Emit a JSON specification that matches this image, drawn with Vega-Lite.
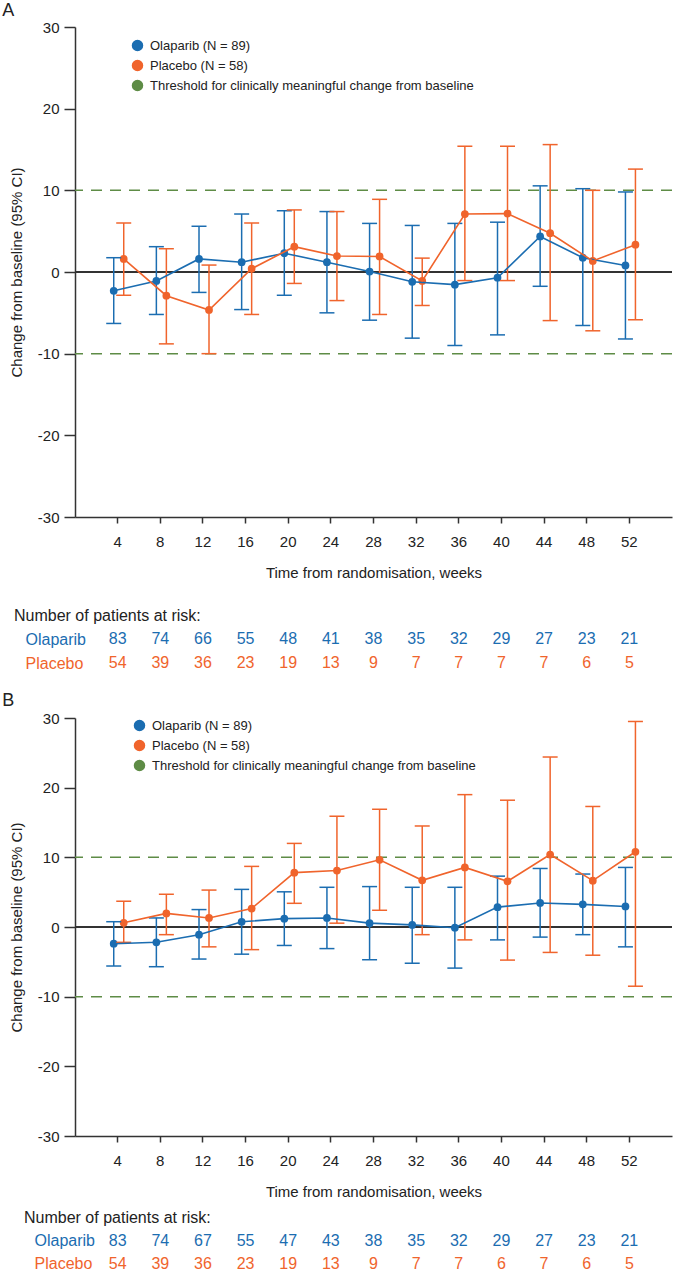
{
  "$schema": "https://vega.github.io/schema/vega-lite/v6.json",
  "padding": {"left": 2, "top": 2, "right": 0, "bottom": 0},
  "resolve": {"scale": {"color": "independent"}, "legend": {"color": "independent"}},
  "config": {
    "font": "Liberation Sans",
    "view": {"stroke": null},
    "axis": {"domainColor": "#333", "tickColor": "#333", "labelColor": "#222", "titleColor": "#222", "domainWidth": 1.5, "tickWidth": 1.5, "grid": false, "labelFontSize": 15, "titleFontSize": 15, "titleFontWeight": "normal"},
    "title": {"fontWeight": "normal", "color": "#222"}
  },
  "vconcat": [
    {
      "spacing": 28,
      "resolve": {"scale": {"color": "independent"}, "legend": {"color": "independent"}},
      "vconcat": [
        {
          "width": 597, "height": 490,
          "title": {"text": "A", "anchor": "start", "frame": "bounds", "dx": -7, "fontSize": 18, "offset": 0},
          "data": {"values": [
            {"week": 4, "group": "Olaparib", "mean": -2.3, "lo": -6.3, "hi": 1.75},
            {"week": 8, "group": "Olaparib", "mean": -1.1, "lo": -5.2, "hi": 3.1},
            {"week": 12, "group": "Olaparib", "mean": 1.6, "lo": -2.5, "hi": 5.6},
            {"week": 16, "group": "Olaparib", "mean": 1.2, "lo": -4.6, "hi": 7.1},
            {"week": 20, "group": "Olaparib", "mean": 2.3, "lo": -2.85, "hi": 7.5},
            {"week": 24, "group": "Olaparib", "mean": 1.2, "lo": -5.0, "hi": 7.4},
            {"week": 28, "group": "Olaparib", "mean": 0.05, "lo": -5.9, "hi": 5.95},
            {"week": 32, "group": "Olaparib", "mean": -1.2, "lo": -8.1, "hi": 5.7},
            {"week": 36, "group": "Olaparib", "mean": -1.55, "lo": -9.0, "hi": 5.95},
            {"week": 40, "group": "Olaparib", "mean": -0.7, "lo": -7.7, "hi": 6.1},
            {"week": 44, "group": "Olaparib", "mean": 4.35, "lo": -1.75, "hi": 10.55},
            {"week": 48, "group": "Olaparib", "mean": 1.75, "lo": -6.55, "hi": 10.2},
            {"week": 52, "group": "Olaparib", "mean": 0.8, "lo": -8.2, "hi": 9.8},
            {"week": 4, "group": "Placebo", "mean": 1.6, "lo": -2.85, "hi": 6.0},
            {"week": 8, "group": "Placebo", "mean": -2.9, "lo": -8.8, "hi": 2.85},
            {"week": 12, "group": "Placebo", "mean": -4.65, "lo": -10.0, "hi": 0.85},
            {"week": 16, "group": "Placebo", "mean": 0.4, "lo": -5.2, "hi": 6.0},
            {"week": 20, "group": "Placebo", "mean": 3.1, "lo": -1.4, "hi": 7.6},
            {"week": 24, "group": "Placebo", "mean": 1.95, "lo": -3.5, "hi": 7.4},
            {"week": 28, "group": "Placebo", "mean": 1.9, "lo": -5.2, "hi": 8.9},
            {"week": 32, "group": "Placebo", "mean": -1.1, "lo": -4.1, "hi": 1.7},
            {"week": 36, "group": "Placebo", "mean": 7.1, "lo": -1.05, "hi": 15.4},
            {"week": 40, "group": "Placebo", "mean": 7.15, "lo": -1.05, "hi": 15.4},
            {"week": 44, "group": "Placebo", "mean": 4.75, "lo": -5.95, "hi": 15.6},
            {"week": 48, "group": "Placebo", "mean": 1.35, "lo": -7.2, "hi": 10.0},
            {"week": 52, "group": "Placebo", "mean": 3.35, "lo": -5.85, "hi": 12.6}
          ]},
          "encoding": {
            "x": {"field": "week", "type": "ordinal", "scale": {"type": "band", "domain": [4, 8, 12, 16, 20, 24, 28, 32, 36, 40, 44, 48, 52], "paddingInner": 0, "paddingOuter": 0.5}, "axis": {"labelAngle": 0, "tickSize": 6, "labelPadding": 11, "title": "Time from randomisation, weeks", "titlePadding": 16}},
            "xOffset": {"field": "group", "scale": {"type": "point", "domain": ["Olaparib", "Placebo"], "range": [17.4, 27.4], "padding": 0}},
            "color": {"field": "group", "type": "nominal", "scale": {"domain": ["Olaparib", "Placebo", "Threshold"], "range": ["#1b6db1", "#f0642c", "#5e8c46"]}}
          },
          "layer": [
            {
              "data": {"values": [{"t": 10}, {"t": -10}]},
              "mark": {"type": "rule", "color": "#5e8c46", "strokeWidth": 1.5, "strokeDash": [11, 8]},
              "encoding": {"y": {"field": "t", "type": "quantitative"}, "x": null, "xOffset": null, "color": null}
            },
            {
              "mark": {"type": "rule", "color": "#333", "strokeWidth": 1.5},
              "encoding": {"y": {"datum": 0, "type": "quantitative"}, "x": null, "xOffset": null, "color": null}
            },
            {
              "mark": {"type": "point", "filled": true, "size": 60, "opacity": 1},
              "encoding": {
                "y": {"field": "mean", "type": "quantitative", "scale": {"domain": [-30, 30], "nice": false}, "axis": {"values": [-30, -20, -10, 0, 10, 20, 30], "labelExpr": "'' + datum.value", "tickSize": 11, "labelPadding": 5, "title": "Change from baseline (95% CI)", "titlePadding": 13}},
                "color": {"field": "group", "type": "nominal", "scale": {"domain": ["Olaparib", "Placebo", "Threshold"], "range": ["#1b6db1", "#f0642c", "#5e8c46"]},
                  "legend": {"orient": "none", "legendX": 56, "legendY": 12, "title": null, "padding": 0, "labelFontSize": 13, "labelColor": "#222", "labelLimit": 0, "labelOffset": 6, "symbolSize": 100, "rowPadding": 3,
                    "labelExpr": "datum.value === 'Olaparib' ? 'Olaparib (N = 89)' : datum.value === 'Placebo' ? 'Placebo (N = 58)' : 'Threshold for clinically meaningful change from baseline'",
                    "encode": {"symbols": {
                      "shape": {"condition": {"test": "datum.value === 'Threshold'", "value": "M-8.5,0L-6.6,0M-4.8,0L-2.8,0M-0.8,0L1.35,0"}, "value": "M-4,0L1.4,0M-2.17,0A0.87,0.87,0,1,0,-0.43,0A0.87,0.87,0,1,0,-2.17,0Z"},
                      "fill": {"condition": [{"test": "datum.value === 'Olaparib'", "value": "#1b6db1"}, {"test": "datum.value === 'Placebo'", "value": "#f0642c"}], "value": "transparent"},
                      "stroke": {"condition": [{"test": "datum.value === 'Olaparib'", "value": "#1b6db1"}, {"test": "datum.value === 'Placebo'", "value": "#f0642c"}], "value": "#5e8c46"},
                      "strokeWidth": {"value": 1.6},
                      "size": {"value": 100},
                      "opacity": {"value": 1}
                    }}
                  }
                }
              }
            },
            {
              "mark": {"type": "rule", "strokeWidth": 1.5},
              "encoding": {"y": {"field": "lo", "type": "quantitative"}, "y2": {"field": "hi"}}
            },
            {
              "mark": {"type": "point", "shape": "stroke", "size": 225, "strokeWidth": 1.5, "opacity": 1},
              "encoding": {"y": {"field": "lo", "type": "quantitative"}}
            },
            {
              "mark": {"type": "point", "shape": "stroke", "size": 225, "strokeWidth": 1.5, "opacity": 1},
              "encoding": {"y": {"field": "hi", "type": "quantitative"}}
            },
            {
              "mark": {"type": "line", "strokeWidth": 1.6},
              "encoding": {"y": {"field": "mean", "type": "quantitative"}}
            }
          ]
        },
        {
          "width": 597, "height": 48,
          "title": {"text": "Number of patients at risk:", "anchor": "start", "frame": "group", "dx": -61, "fontSize": 16, "offset": 3},
          "data": {"values": [
            {"week": 4, "group": "Olaparib", "n": 83}, {"week": 8, "group": "Olaparib", "n": 74}, {"week": 12, "group": "Olaparib", "n": 66}, {"week": 16, "group": "Olaparib", "n": 55}, {"week": 20, "group": "Olaparib", "n": 48}, {"week": 24, "group": "Olaparib", "n": 41}, {"week": 28, "group": "Olaparib", "n": 38}, {"week": 32, "group": "Olaparib", "n": 35}, {"week": 36, "group": "Olaparib", "n": 32}, {"week": 40, "group": "Olaparib", "n": 29}, {"week": 44, "group": "Olaparib", "n": 27}, {"week": 48, "group": "Olaparib", "n": 23}, {"week": 52, "group": "Olaparib", "n": 21},
            {"week": 4, "group": "Placebo", "n": 54}, {"week": 8, "group": "Placebo", "n": 39}, {"week": 12, "group": "Placebo", "n": 36}, {"week": 16, "group": "Placebo", "n": 23}, {"week": 20, "group": "Placebo", "n": 19}, {"week": 24, "group": "Placebo", "n": 13}, {"week": 28, "group": "Placebo", "n": 9}, {"week": 32, "group": "Placebo", "n": 7}, {"week": 36, "group": "Placebo", "n": 7}, {"week": 40, "group": "Placebo", "n": 7}, {"week": 44, "group": "Placebo", "n": 7}, {"week": 48, "group": "Placebo", "n": 6}, {"week": 52, "group": "Placebo", "n": 5}
          ]},
          "mark": {"type": "text", "fontSize": 16},
          "encoding": {
            "x": {"field": "week", "type": "ordinal", "scale": {"type": "band", "domain": [4, 8, 12, 16, 20, 24, 28, 32, 36, 40, 44, 48, 52], "paddingInner": 0, "paddingOuter": 0.5}, "axis": null},
            "y": {"field": "group", "type": "nominal", "sort": ["Olaparib", "Placebo"], "scale": {"paddingInner": 0, "paddingOuter": 0},
              "axis": {"title": null, "domain": false, "ticks": false, "labelAlign": "left", "labelPadding": 50, "labelFontSize": 16,
                "labelColor": {"condition": {"test": "datum.value === 'Olaparib'", "value": "#1b6db1"}, "value": "#f0642c"}}},
            "text": {"field": "n", "type": "quantitative"},
            "color": {"field": "group", "type": "nominal", "scale": {"domain": ["Olaparib", "Placebo"], "range": ["#1b6db1", "#f0642c"]}, "legend": null}
          }
        }
      ]
    },
    {
      "spacing": 11,
      "resolve": {"scale": {"color": "independent"}, "legend": {"color": "independent"}},
      "vconcat": [
        {
          "width": 597, "height": 418,
          "title": {"text": "B", "anchor": "start", "frame": "bounds", "dx": -7, "fontSize": 18, "offset": 1},
          "data": {"values": [
            {"week": 4, "group": "Olaparib", "mean": -2.4, "lo": -5.6, "hi": 0.76},
            {"week": 8, "group": "Olaparib", "mean": -2.2, "lo": -5.7, "hi": 1.3},
            {"week": 12, "group": "Olaparib", "mean": -1.1, "lo": -4.6, "hi": 2.5},
            {"week": 16, "group": "Olaparib", "mean": 0.75, "lo": -3.9, "hi": 5.4},
            {"week": 20, "group": "Olaparib", "mean": 1.2, "lo": -2.65, "hi": 5.05},
            {"week": 24, "group": "Olaparib", "mean": 1.3, "lo": -3.1, "hi": 5.7},
            {"week": 28, "group": "Olaparib", "mean": 0.55, "lo": -4.7, "hi": 5.8},
            {"week": 32, "group": "Olaparib", "mean": 0.3, "lo": -5.2, "hi": 5.7},
            {"week": 36, "group": "Olaparib", "mean": -0.1, "lo": -5.9, "hi": 5.7},
            {"week": 40, "group": "Olaparib", "mean": 2.85, "lo": -1.85, "hi": 7.3},
            {"week": 44, "group": "Olaparib", "mean": 3.45, "lo": -1.45, "hi": 8.4},
            {"week": 48, "group": "Olaparib", "mean": 3.25, "lo": -1.1, "hi": 7.6},
            {"week": 52, "group": "Olaparib", "mean": 2.95, "lo": -2.85, "hi": 8.55},
            {"week": 4, "group": "Placebo", "mean": 0.6, "lo": -2.2, "hi": 3.7},
            {"week": 8, "group": "Placebo", "mean": 1.95, "lo": -1.1, "hi": 4.7},
            {"week": 12, "group": "Placebo", "mean": 1.3, "lo": -2.85, "hi": 5.3},
            {"week": 16, "group": "Placebo", "mean": 2.65, "lo": -3.25, "hi": 8.7},
            {"week": 20, "group": "Placebo", "mean": 7.8, "lo": 3.4, "hi": 12.0},
            {"week": 24, "group": "Placebo", "mean": 8.1, "lo": 0.55, "hi": 15.9},
            {"week": 28, "group": "Placebo", "mean": 9.65, "lo": 2.4, "hi": 16.9},
            {"week": 32, "group": "Placebo", "mean": 6.7, "lo": -1.1, "hi": 14.5},
            {"week": 36, "group": "Placebo", "mean": 8.55, "lo": -1.85, "hi": 19.0},
            {"week": 40, "group": "Placebo", "mean": 6.55, "lo": -4.75, "hi": 18.2},
            {"week": 44, "group": "Placebo", "mean": 10.4, "lo": -3.65, "hi": 24.4},
            {"week": 48, "group": "Placebo", "mean": 6.65, "lo": -4.05, "hi": 17.3},
            {"week": 52, "group": "Placebo", "mean": 10.8, "lo": -8.5, "hi": 29.5}
          ]},
          "encoding": {
            "x": {"field": "week", "type": "ordinal", "scale": {"type": "band", "domain": [4, 8, 12, 16, 20, 24, 28, 32, 36, 40, 44, 48, 52], "paddingInner": 0, "paddingOuter": 0.5}, "axis": {"labelAngle": 0, "tickSize": 6, "labelPadding": 11, "title": "Time from randomisation, weeks", "titlePadding": 16}},
            "xOffset": {"field": "group", "scale": {"type": "point", "domain": ["Olaparib", "Placebo"], "range": [17.4, 27.4], "padding": 0}},
            "color": {"field": "group", "type": "nominal", "scale": {"domain": ["Olaparib", "Placebo", "Threshold"], "range": ["#1b6db1", "#f0642c", "#5e8c46"]}}
          },
          "layer": [
            {
              "data": {"values": [{"t": 10}, {"t": -10}]},
              "mark": {"type": "rule", "color": "#5e8c46", "strokeWidth": 1.5, "strokeDash": [11, 8]},
              "encoding": {"y": {"field": "t", "type": "quantitative"}, "x": null, "xOffset": null, "color": null}
            },
            {
              "mark": {"type": "rule", "color": "#333", "strokeWidth": 1.5},
              "encoding": {"y": {"datum": 0, "type": "quantitative"}, "x": null, "xOffset": null, "color": null}
            },
            {
              "mark": {"type": "point", "filled": true, "size": 60, "opacity": 1},
              "encoding": {
                "y": {"field": "mean", "type": "quantitative", "scale": {"domain": [-30, 30], "nice": false}, "axis": {"values": [-30, -20, -10, 0, 10, 20, 30], "labelExpr": "'' + datum.value", "tickSize": 11, "labelPadding": 5, "title": "Change from baseline (95% CI)", "titlePadding": 13}},
                "color": {"field": "group", "type": "nominal", "scale": {"domain": ["Olaparib", "Placebo", "Threshold"], "range": ["#1b6db1", "#f0642c", "#5e8c46"]},
                  "legend": {"orient": "none", "legendX": 58, "legendY": 1, "title": null, "padding": 0, "labelFontSize": 13, "labelColor": "#222", "labelLimit": 0, "labelOffset": 6, "symbolSize": 100, "rowPadding": 3,
                    "labelExpr": "datum.value === 'Olaparib' ? 'Olaparib (N = 89)' : datum.value === 'Placebo' ? 'Placebo (N = 58)' : 'Threshold for clinically meaningful change from baseline'",
                    "encode": {"symbols": {
                      "shape": {"condition": {"test": "datum.value === 'Threshold'", "value": "M-8.5,0L-6.6,0M-4.8,0L-2.8,0M-0.8,0L1.35,0"}, "value": "M-4,0L1.4,0M-2.17,0A0.87,0.87,0,1,0,-0.43,0A0.87,0.87,0,1,0,-2.17,0Z"},
                      "fill": {"condition": [{"test": "datum.value === 'Olaparib'", "value": "#1b6db1"}, {"test": "datum.value === 'Placebo'", "value": "#f0642c"}], "value": "transparent"},
                      "stroke": {"condition": [{"test": "datum.value === 'Olaparib'", "value": "#1b6db1"}, {"test": "datum.value === 'Placebo'", "value": "#f0642c"}], "value": "#5e8c46"},
                      "strokeWidth": {"value": 1.6},
                      "size": {"value": 100},
                      "opacity": {"value": 1}
                    }}
                  }
                }
              }
            },
            {
              "mark": {"type": "rule", "strokeWidth": 1.5},
              "encoding": {"y": {"field": "lo", "type": "quantitative"}, "y2": {"field": "hi"}}
            },
            {
              "mark": {"type": "point", "shape": "stroke", "size": 225, "strokeWidth": 1.5, "opacity": 1},
              "encoding": {"y": {"field": "lo", "type": "quantitative"}}
            },
            {
              "mark": {"type": "point", "shape": "stroke", "size": 225, "strokeWidth": 1.5, "opacity": 1},
              "encoding": {"y": {"field": "hi", "type": "quantitative"}}
            },
            {
              "mark": {"type": "line", "strokeWidth": 1.6},
              "encoding": {"y": {"field": "mean", "type": "quantitative"}}
            }
          ]
        },
        {
          "width": 597, "height": 46,
          "title": {"text": "Number of patients at risk:", "anchor": "start", "frame": "group", "dx": -51, "fontSize": 16, "offset": 3},
          "data": {"values": [
            {"week": 4, "group": "Olaparib", "n": 83}, {"week": 8, "group": "Olaparib", "n": 74}, {"week": 12, "group": "Olaparib", "n": 67}, {"week": 16, "group": "Olaparib", "n": 55}, {"week": 20, "group": "Olaparib", "n": 47}, {"week": 24, "group": "Olaparib", "n": 43}, {"week": 28, "group": "Olaparib", "n": 38}, {"week": 32, "group": "Olaparib", "n": 35}, {"week": 36, "group": "Olaparib", "n": 32}, {"week": 40, "group": "Olaparib", "n": 29}, {"week": 44, "group": "Olaparib", "n": 27}, {"week": 48, "group": "Olaparib", "n": 23}, {"week": 52, "group": "Olaparib", "n": 21},
            {"week": 4, "group": "Placebo", "n": 54}, {"week": 8, "group": "Placebo", "n": 39}, {"week": 12, "group": "Placebo", "n": 36}, {"week": 16, "group": "Placebo", "n": 23}, {"week": 20, "group": "Placebo", "n": 19}, {"week": 24, "group": "Placebo", "n": 13}, {"week": 28, "group": "Placebo", "n": 9}, {"week": 32, "group": "Placebo", "n": 7}, {"week": 36, "group": "Placebo", "n": 7}, {"week": 40, "group": "Placebo", "n": 6}, {"week": 44, "group": "Placebo", "n": 7}, {"week": 48, "group": "Placebo", "n": 6}, {"week": 52, "group": "Placebo", "n": 5}
          ]},
          "mark": {"type": "text", "fontSize": 16},
          "encoding": {
            "x": {"field": "week", "type": "ordinal", "scale": {"type": "band", "domain": [4, 8, 12, 16, 20, 24, 28, 32, 36, 40, 44, 48, 52], "paddingInner": 0, "paddingOuter": 0.5}, "axis": null},
            "y": {"field": "group", "type": "nominal", "sort": ["Olaparib", "Placebo"], "scale": {"paddingInner": 0, "paddingOuter": 0},
              "axis": {"title": null, "domain": false, "ticks": false, "labelAlign": "left", "labelPadding": 41, "labelFontSize": 16,
                "labelColor": {"condition": {"test": "datum.value === 'Olaparib'", "value": "#1b6db1"}, "value": "#f0642c"}}},
            "text": {"field": "n", "type": "quantitative"},
            "color": {"field": "group", "type": "nominal", "scale": {"domain": ["Olaparib", "Placebo"], "range": ["#1b6db1", "#f0642c"]}, "legend": null}
          }
        }
      ]
    }
  ],
  "spacing": 17
}
